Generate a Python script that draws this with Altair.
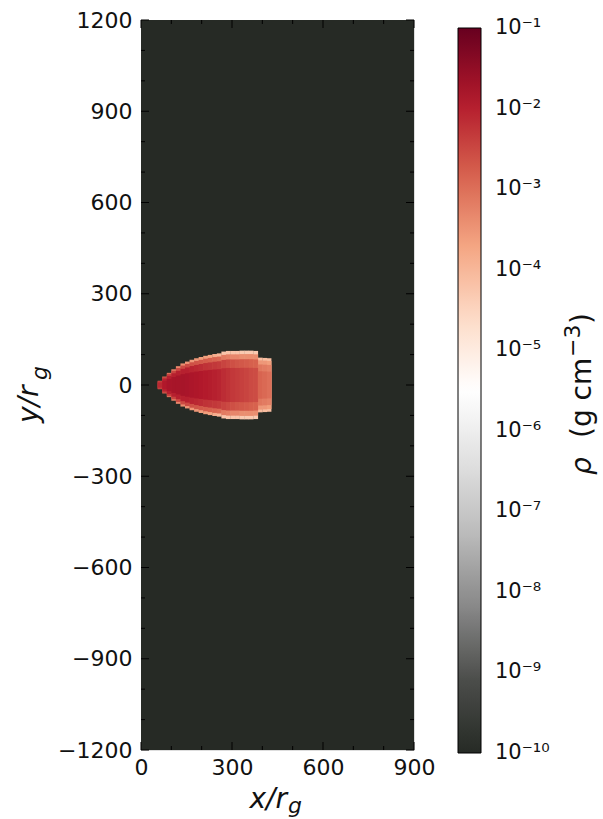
import altair as alt
import pandas as pd

# ---------------- axes ----------------
x_ticks = [0, 300, 600, 900]
y_ticks = [-1200, -900, -600, -300, 0, 300, 600, 900, 1200]
x_minor = [100, 200, 400, 500, 700, 800]
y_minor = [-1100, -1000, -800, -700, -500, -400, -200, -100,
           100, 200, 400, 500, 700, 800, 1000, 1100]

# ---------------- colour bar ----------------
cbar_values = [1e-10, 1e-9, 1e-8, 1e-7, 1e-6, 1e-5, 1e-4, 1e-3, 1e-2, 1e-1]
cbar_labels = ["10⁻¹⁰", "10⁻⁹", "10⁻⁸", "10⁻⁷", "10⁻⁶",
               "10⁻⁵", "10⁻⁴", "10⁻³", "10⁻²", "10⁻¹"]
cmap_stops = [1e-10, 7.94e-10, 6.31e-9, 5.01e-8, 3.98e-7, 3.16e-6,
              2.51e-5, 2.0e-4, 1.58e-3, 1.26e-2, 1e-1]
cmap_colors = ["#262a25", "#4b4d4a", "#878787", "#bababa", "#e0e0e0", "#ffffff",
               "#fddbc7", "#f4a582", "#d6604d", "#b2182b", "#67001f"]

# ---------------- density field ----------------
bg_x = [0, 900]
bg_y = [-1200, 1200]
bg_rho = 1e-10

col_x0 = [55, 70, 85, 100, 115, 130, 145, 160, 175, 190, 205, 220, 235,
          250, 265, 280, 295, 310, 325, 340, 355, 370, 385, 400, 415]
col_x1 = [71, 86, 101, 116, 131, 146, 161, 176, 191, 206, 221, 236, 251,
          266, 281, 296, 311, 326, 341, 356, 371, 386, 401, 416, 430]
col_halfh = [14, 28, 40, 52, 62, 71, 77, 83, 88, 92, 96, 99, 102,
             104, 110, 112, 112, 112, 113, 113, 113, 112, 90, 89, 88]
band_frac = [1.0, 0.9, 0.75, 0.5]
rho_edge = [2e-3, 1.5e-3, 1e-3, 6e-4, 5e-4, 4e-4, 3e-4, 3e-4, 3e-4, 2.5e-4, 2.5e-4,
            2e-4, 1.5e-4, 1e-4, 6e-5, 6e-5, 6e-5, 6e-5, 5e-5, 5e-5, 5e-5,
            5e-5, 8e-5, 8e-5, 8e-5]
rho_outer = [4e-3, 4e-3, 4e-3, 3.5e-3, 3e-3, 3e-3, 3e-3, 2.5e-3, 2.2e-3, 2e-3,
             1.8e-3, 1.6e-3, 1.4e-3, 1.2e-3, 7e-4, 6e-4, 5e-4, 5e-4, 4e-4, 4e-4,
             4e-4, 4e-4, 3e-4, 3e-4, 2.5e-4]
rho_mid = [6e-3, 9e-3, 1e-2, 1e-2, 1e-2, 1e-2, 1e-2, 9e-3, 8e-3, 7e-3, 6e-3,
           5.5e-3, 5e-3, 4.5e-3, 3.5e-3, 3e-3, 2.5e-3, 2.2e-3, 2e-3, 1.8e-3,
           1.6e-3, 1.5e-3, 8e-4, 7e-4, 6e-4]
rho_core = [8e-3, 1.3e-2, 1.6e-2, 1.7e-2, 1.7e-2, 1.7e-2, 1.6e-2, 1.5e-2, 1.4e-2,
            1.3e-2, 1.2e-2, 1.1e-2, 1e-2, 9e-3, 7e-3, 6e-3, 5e-3, 4.5e-3, 4e-3,
            3.5e-3, 3e-3, 2.8e-3, 1.4e-3, 1.2e-3, 1e-3]

# ---------------- build table ----------------
rows = [dict(x0=bg_x[0], x1=bg_x[1], y0=bg_y[0], y1=bg_y[1], rho=bg_rho)]
band_rhos = [rho_edge, rho_outer, rho_mid, rho_core]
for k, frac in enumerate(band_frac):
    for i in range(len(col_x0)):
        h = col_halfh[i] * frac
        rows.append(dict(x0=col_x0[i], x1=col_x1[i], y0=-h, y1=h, rho=band_rhos[k][i]))
field = pd.DataFrame(rows)

W, H = 273, 730
FONT = "DejaVu Sans"
TXT = "#111111"

xscale = alt.Scale(domain=[0, 900], nice=False, zero=False)
yscale = alt.Scale(domain=[-1200, 1200], nice=False, zero=False)

xaxis = alt.Axis(values=x_ticks, title=None, grid=False, domain=False,
                 tickSize=0, labelPadding=7, labelFontSize=22,
                 labelFont=FONT, labelColor=TXT, labelFlush=False,
                 labelOverlap=False, format="d")
yaxis = alt.Axis(values=y_ticks, title=None, grid=False, domain=False,
                 tickSize=0, labelPadding=9, labelFontSize=22,
                 labelFont=FONT, labelColor=TXT, labelFlush=False,
                 labelOverlap=False, format="d")

cscale = alt.Scale(type="log", domain=cmap_stops, range=cmap_colors,
                   interpolate="rgb", nice=False, zero=False)

leg_vals = [v for v in cbar_values]
leg_vals[0] = cbar_values[0] * 1.0005
leg_vals[-1] = cbar_values[-1] * 0.9995
label_expr = "[" + ",".join("'%s'" % s for s in cbar_labels) + "][round(log(datum.value)/LN10)+10]"

heat = alt.Chart(field).mark_rect(strokeWidth=0).encode(
    x=alt.X("x0:Q", scale=xscale, axis=xaxis),
    x2="x1:Q",
    y=alt.Y("y0:Q", scale=yscale, axis=yaxis),
    y2="y1:Q",
    color=alt.Color("rho:Q", scale=cscale,
                    legend=alt.Legend(type="gradient", orient="none", legendX=317, legendY=8,
                                      direction="vertical", gradientLength=725,
                                      gradientThickness=23, values=leg_vals,
                                      labelExpr=label_expr, labelFontSize=21,
                                      labelFont=FONT, labelColor=TXT, labelOffset=14,
                                      title=None, gradientStrokeColor="black",
                                      gradientStrokeWidth=1, padding=0,
                                      labelOverlap=False)),
)

ymaj = pd.DataFrame({"v": y_ticks})
ymin = pd.DataFrame({"v": y_minor})
xmaj = pd.DataFrame({"v": x_ticks})
xmin = pd.DataFrame({"v": x_minor})


def ytick(df, x0, x1):
    return alt.Chart(df).mark_rule(color="black", strokeWidth=1).encode(
        y=alt.Y("v:Q", scale=yscale, axis=yaxis), x=alt.value(x0), x2=alt.value(x1))


def xtick(df, y0, y1):
    return alt.Chart(df).mark_rule(color="black", strokeWidth=1).encode(
        x=alt.X("v:Q", scale=xscale, axis=xaxis), y=alt.value(y0), y2=alt.value(y1))


ticks = [ytick(ymaj, 0, 8), ytick(ymaj, W - 8, W), ytick(ymin, 0, 4), ytick(ymin, W - 4, W),
         xtick(xmaj, 0, 8), xtick(xmaj, H - 8, H), xtick(xmin, 0, 4), xtick(xmin, H - 4, H)]


def txt(text, x, y, size, angle=0, align="left", baseline="alphabetic", style="normal"):
    return alt.Chart(pd.DataFrame({"t": [text]})).mark_text(
        fontSize=size, font=FONT, angle=angle, align=align, baseline=baseline,
        fontStyle=style, color=TXT).encode(text="t:N", x=alt.value(x), y=alt.value(y))


titles = [
    txt("x/r", 146, 788, 28, align="right", style="italic"),
    txt("g", 147, 793, 22, style="italic"),
    txt("y/r", -103, 403, 28, angle=270, style="italic"),
    txt("g", -94, 360, 22, angle=270, style="italic"),
    txt("ρ", 450, 455, 28, angle=270, style="italic"),
    txt("(g cm", 450, 418, 28, angle=270),
    txt("−3", 439, 337, 22, angle=270),
    txt(")", 450, 304, 28, angle=270),
]

chart = alt.layer(heat, *ticks, *titles).properties(
    width=W, height=H,
    padding={"left": 141, "top": 20, "right": 189, "bottom": 69},
    autosize=alt.AutoSizeParams(type="none"),
).configure_view(stroke="black", strokeWidth=1).configure_legend(
    gradientVerticalMaxLength=800
).configure(background="white")

chart.save("out.html", embed_options={"renderer": "svg", "actions": False})
